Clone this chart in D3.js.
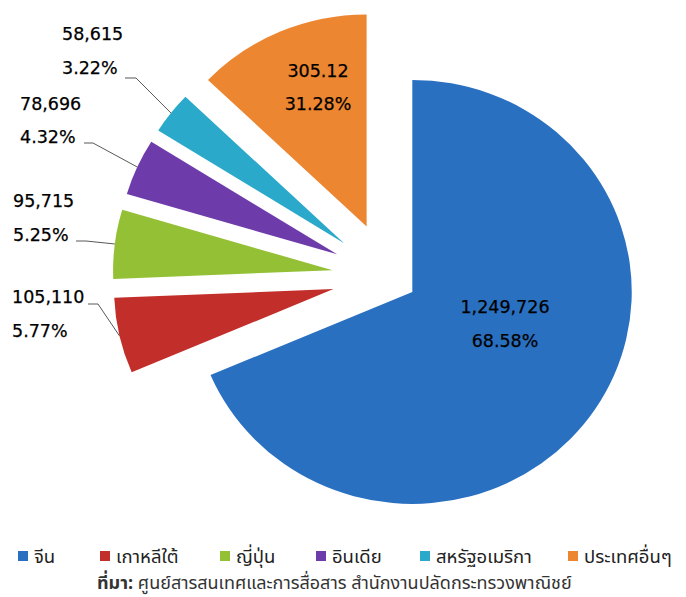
<!DOCTYPE html>
<html><head><meta charset="utf-8">
<script src="https://cdn.jsdelivr.net/npm/d3@7"></script>
<style>
html,body{margin:0;padding:0;background:#fff;}
svg{display:block;}
</style></head>
<body>
<svg id="chart" width="686" height="597"></svg>
<script>
// ---- data ----
const categories = ["จีน","เกาหลีใต้","ญี่ปุ่น","อินเดีย","สหรัฐอเมริกา","ประเทศอื่นๆ"];
const values = [1249726,105110,95715,78696,58615,234428];
const valueLabels = ["1,249,726","105,110","95,715","78,696","58,615","305.12"];
const pctLabels = ["68.58%","5.77%","5.25%","4.32%","3.22%","31.28%"];
const colors = ["#2A70C1","#C22F2A","#93C034","#6E3BAB","#2AA9CA","#EC8631"];
const sourceLabel = "ที่มา:";
const sourceText = " ศูนย์สารสนเทศและการสื่อสาร สำนักงานปลัดกระทรวงพาณิชย์";

// ---- layout ----
const svg = d3.select("#chart");
const cx = 389, cy = 277, R = 212, sx = 1.035;
const explode = [27,55,55,55,55,55];
const numFont = "'DejaVu Sans', Verdana, sans-serif";
const thaiFont = "Tahoma, 'Noto Sans Thai', 'Leelawadee UI', 'DejaVu Sans', sans-serif";

const pie = d3.pie().sort(null).value(d => d).startAngle(0).endAngle(2*Math.PI);
const arcs = pie(values);
const arc = d3.arc().innerRadius(0).outerRadius(R);

function apex(i){
  const a = arcs[i]; const m = (a.startAngle + a.endAngle)/2;
  return [cx + explode[i]*Math.sin(m)*sx, cy - explode[i]*Math.cos(m)];
}
function outerMid(i){
  const a = arcs[i]; const m = (a.startAngle + a.endAngle)/2;
  const p = apex(i);
  return [p[0] + R*Math.sin(m)*sx, p[1] - R*Math.cos(m)];
}

svg.append("g").selectAll("path").data(arcs).join("path")
  .attr("transform", (d,i) => { const p = apex(i); return `translate(${p[0]},${p[1]}) scale(${sx},1)`; })
  .attr("d", arc)
  .attr("fill", (d,i) => colors[i]);

// outside labels (slices 1..4)
const outside = [
  {i:1, x:12, y1:303, y2:337, lx:88, ly:304, hx:98},
  {i:2, x:13, y1:207, y2:241, lx:76, ly:241, hx:86},
  {i:3, x:20, y1:110, y2:143, lx:84, ly:143, hx:93},
  {i:4, x:62, y1:40,  y2:74,  lx:125, ly:78, hx:136}
];
const lbl = svg.append("g").attr("font-family", numFont).attr("font-size", 17.5).attr("fill", "#000")
  .attr("stroke", "#000").attr("stroke-width", 0.25);
outside.forEach(o => {
  lbl.append("text").attr("x", o.x).attr("y", o.y1).text(valueLabels[o.i]);
  lbl.append("text").attr("x", o.x).attr("y", o.y2).text(pctLabels[o.i]);
  const e = outerMid(o.i);
  svg.append("polyline")
    .attr("points", `${o.lx},${o.ly} ${o.hx},${o.ly} ${e[0]},${e[1]}`)
    .attr("fill","none").attr("stroke","#595959").attr("stroke-width",1);
});
// inside labels
const inside = [
  {i:0, x:505, y1:313, y2:347},
  {i:5, x:318, y1:77, y2:110}
];
inside.forEach(o => {
  lbl.append("text").attr("x", o.x).attr("y", o.y1).attr("text-anchor","middle").text(valueLabels[o.i]);
  lbl.append("text").attr("x", o.x).attr("y", o.y2).attr("text-anchor","middle").text(pctLabels[o.i]);
});

// legend
const legendX = [18,100,220,316,420,568];
const lg = svg.append("g").attr("font-family", thaiFont).attr("font-size", 18.5).attr("fill", "#222");
categories.forEach((c,i) => {
  lg.append("rect").attr("x", legendX[i]).attr("y", 551).attr("width", 10).attr("height", 10).attr("fill", colors[i]);
  lg.append("text").attr("x", legendX[i]+16).attr("y", 563).text(c);
});
// source
const src = svg.append("text").attr("x", 97).attr("y", 589)
  .attr("font-family", thaiFont).attr("font-size", 18).attr("fill", "#333");
src.append("tspan").attr("font-weight","bold").text(sourceLabel);
src.append("tspan").text(sourceText);
</script>
</body></html>
